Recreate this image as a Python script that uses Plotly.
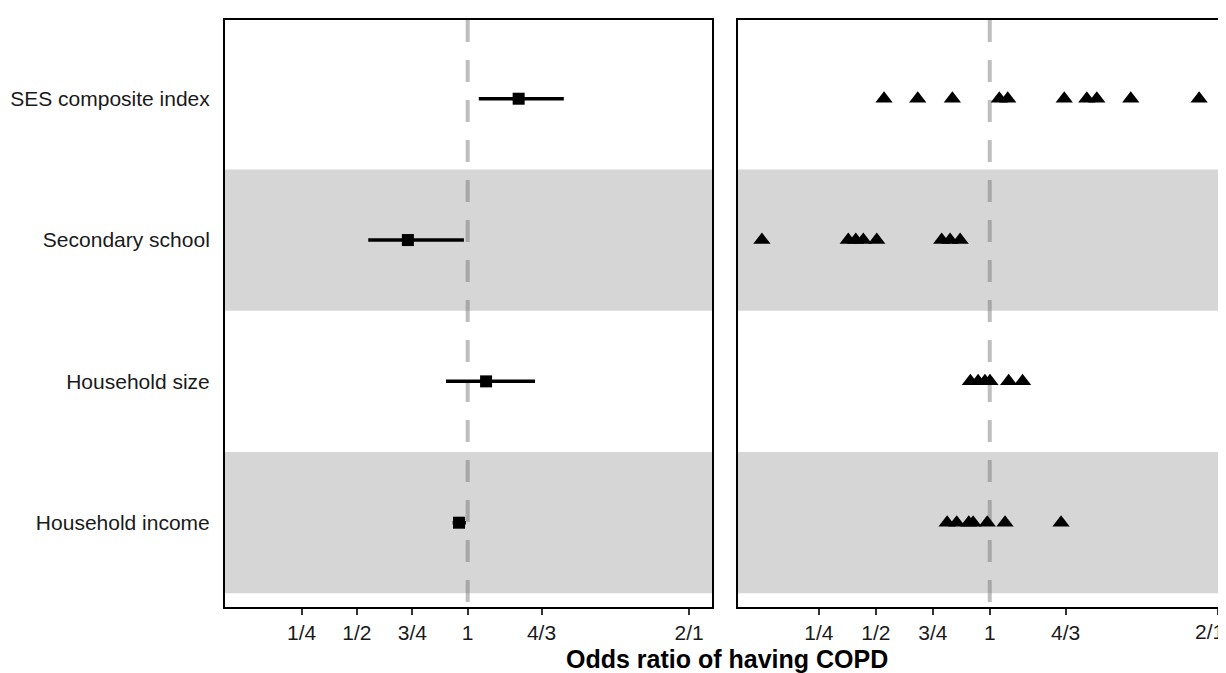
import plotly.graph_objects as go

# ---------------- data ----------------
categories = ["SES composite index", "Secondary school", "Household size", "Household income"]
row_pos = [4, 3, 2, 1]

or_est = [1.23, 0.73, 1.083, 0.961]
ci_low = [1.05, 0.551, 0.902, 0.932]
ci_high = [1.434, 0.983, 1.304, 0.992]

ses_pts = [0.536, 0.684, 0.836, 1.042, 1.079, 1.327, 1.426, 1.470, 1.619, 1.919]
school_pts = [0.0, 0.379, 0.412, 0.445, 0.504, 0.789, 0.826, 0.870]
size_pts = [0.915, 0.949, 0.979, 1.001, 1.083, 1.144]
income_pts = [0.813, 0.855, 0.908, 0.927, 0.989, 1.067, 1.313]
study_pts = [ses_pts, school_pts, size_pts, income_pts]

tick_vals = [0.25, 0.5, 0.75, 1, 4 / 3, 2]
tick_text = ["1/4", "1/2", "3/4", "1", "4/3", "2/1"]

banded_rows = [3, 1]

# ---------------- figure ----------------
# the page body has an 8px margin, so the figure is laid out in page pixels minus 8
OFF = 8
W, H = 1226 - OFF, 673 - OFF
FONT = "Liberation Sans, Arial, sans-serif"
TXT = "#1a1a1a"

left_x0, left_x1 = 225 - OFF, 712 - OFF
right_x0 = 738 - OFF
top_px, bot_px = 20 - OFF, 607 - OFF
plot_h = bot_px - top_px

fig = go.Figure()

# left panel: pooled estimates with CI
fig.add_trace(go.Scatter(
    x=or_est, y=row_pos, mode="markers",
    marker=dict(symbol="square", size=12, color="black"),
    error_x=dict(type="data", symmetric=False,
                 array=[h - e for h, e in zip(ci_high, or_est)],
                 arrayminus=[e - l for e, l in zip(or_est, ci_low)],
                 thickness=3.5, width=0, color="black"),
    xaxis="x", yaxis="y", showlegend=False, hoverinfo="skip"))

# right panel: individual estimates
px_, py_ = [], []
for r, pts in zip(row_pos, study_pts):
    px_ += pts
    py_ += [r] * len(pts)
fig.add_trace(go.Scatter(
    x=px_, y=py_, mode="markers",
    marker=dict(symbol="triangle-up", size=15, color="black", line=dict(width=0)),
    xaxis="x2", yaxis="y2", showlegend=False, hoverinfo="skip"))

shapes = []
for xr, yr in (("x", "y"), ("x2", "y2")):
    for b in banded_rows:
        shapes.append(dict(type="rect", xref=f"{xr} domain", yref=yr,
                           x0=0, x1=1, y0=b - 0.5, y1=b + 0.5,
                           fillcolor="#D6D6D6", line=dict(width=0), layer="below"))
    shapes.append(dict(type="line", xref=xr, yref=f"{yr} domain",
                       x0=1, x1=1, y0=1, y1=0,
                       line=dict(color="rgba(110,110,110,0.45)", width=4, dash="22px,18px"),
                       layer="below"))

yrange = [0.4035, 4.557]
axis_common = dict(showgrid=False, zeroline=False, showline=True, linecolor="black",
                   linewidth=2, tickfont=dict(family=FONT, size=21, color=TXT))

fig.update_layout(
    width=W, height=H,
    margin=dict(l=0, r=0, t=top_px, b=H - bot_px),
    paper_bgcolor="white", plot_bgcolor="white",
    shapes=shapes,
    xaxis=dict(domain=[left_x0 / W, left_x1 / W], range=[-0.0957, 2.103],
               tickvals=tick_vals, ticktext=tick_text, ticks="outside",
               ticklen=6, tickwidth=2, tickcolor="#333333", mirror=True, **axis_common),
    yaxis=dict(domain=[0, 1], range=yrange, tickvals=row_pos, ticktext=categories,
               ticks="outside", ticklen=9, tickcolor="rgba(0,0,0,0)", mirror=True,
               **axis_common),
    xaxis2=dict(domain=[right_x0 / W, 1.0], range=[-0.105, 2.037], anchor="y2",
                tickvals=tick_vals, ticktext=tick_text, ticks="outside",
                ticklen=6, tickwidth=2, tickcolor="#333333", mirror=True, **axis_common),
    yaxis2=dict(domain=[0, 1], range=yrange, anchor="x2", showticklabels=False,
                ticks="", mirror=False, **axis_common),
    annotations=[
        dict(text="<b>Odds ratio of having COPD</b>", xref="paper", yref="paper",
             x=(726.5 - OFF) / W, y=-(659 - 607) / plot_h,
             xanchor="center", yanchor="middle",
             showarrow=False, font=dict(family=FONT, size=25, color="black")),
        # last tick label of the right panel sits at the figure's right edge
        dict(text=tick_text[-1], xref="paper", yref="paper",
             x=1.0, y=-(631 - 607) / plot_h, xanchor="right", yanchor="middle",
             showarrow=False, font=dict(family=FONT, size=21, color=TXT)),
    ],
)

fig.write_html("out.html")
